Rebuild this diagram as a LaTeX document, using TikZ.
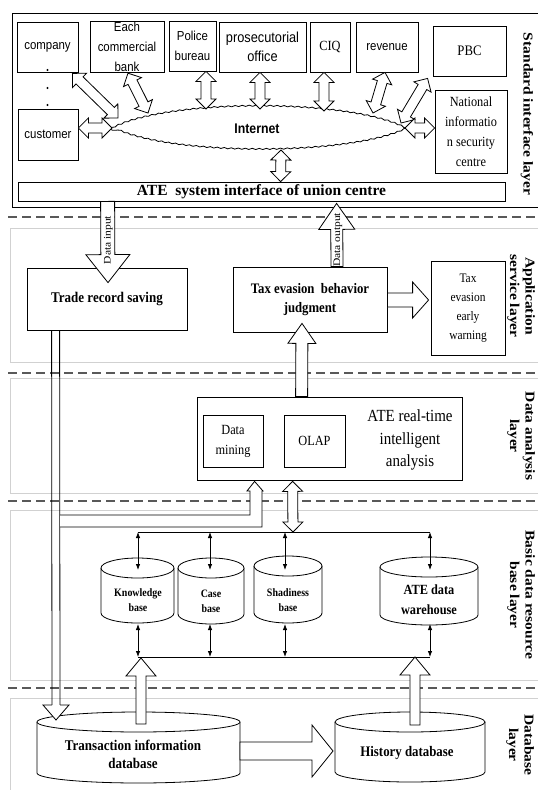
\documentclass[tikz,border=0pt]{standalone}
\usepackage{fontspec}
\setmainfont{Liberation Serif}[FakeStretch=0.88]
\newfontfamily\normf{Liberation Serif}
\newfontfamily\sansf{Liberation Sans}[FakeStretch=0.88]
\newfontfamily\widef{Liberation Serif}[FakeStretch=1.15]
\usetikzlibrary{calc,arrows.meta,decorations.pathmorphing}

% hollow double-headed block arrow: #1,#2 ends, #3 shaft half width, #4 head half width, #5 head length
\newcommand\dblarr[5]{%
  \coordinate (da1) at ($(#1)!#5!(#2)$);
  \coordinate (da2) at ($(#2)!#5!(#1)$);
  \draw[blockarr] (#1) -- ($(da1)!#4!90:(#2)$) -- ($(da1)!#3!90:(#2)$)
    -- ($(da2)!#3!-90:(#1)$) -- ($(da2)!#4!-90:(#1)$) -- (#2)
    -- ($(da2)!#4!90:(#1)$) -- ($(da2)!#3!90:(#1)$)
    -- ($(da1)!#3!-90:(#2)$) -- ($(da1)!#4!-90:(#2)$) -- cycle;}
% hollow single block arrow: tail #1, tip #2
\newcommand\sglarr[5]{%
  \coordinate (sa1) at ($(#2)!#5!(#1)$);
  \draw[blockarr] ($(#1)!#3!90:(#2)$) -- ($(sa1)!#3!-90:(#1)$) -- ($(sa1)!#4!-90:(#1)$)
    -- (#2) -- ($(sa1)!#4!90:(#1)$) -- ($(sa1)!#3!90:(#1)$) -- ($(#1)!#3!-90:(#2)$) -- cycle;}
% cylinder: cx, top-ellipse centre y, bottom-ellipse centre y, rx, ry
\newcommand\cyl[5]{%
  \draw[fill=white] ({#1-#4},#2) -- ({#1-#4},#3)
    .. controls ({#1-#4},{#3+0.5523*#5}) and ({#1-0.5523*#4},{#3+#5}) .. (#1,{#3+#5})
    .. controls ({#1+0.5523*#4},{#3+#5}) and ({#1+#4},{#3+0.5523*#5}) .. ({#1+#4},#3)
    -- ({#1+#4},#2);
  \draw[fill=white] (#1,#2) ellipse [x radius=#4, y radius=#5];}

\begin{document}
\begin{tikzpicture}[x=1pt,y=-1pt,line width=0.8pt,
  box/.style={draw, inner sep=1pt, align=center},
  blockarr/.style={draw, fill=white, line join=miter},
  faint/.style={draw=black!18, line width=0.7pt},
  dashline/.style={draw=black!65, line width=1.4pt, dash pattern=on 9pt off 5pt},
  biarr/.style={{Latex[length=6pt,width=4.5pt]}-{Latex[length=6pt,width=4.5pt]}},
  layerlab/.style={font=\widef\bfseries\fontsize{13.5}{15.5}\selectfont, align=center, rotate=-90, inner sep=0pt},
  sanslab/.style={font=\sansf\fontsize{13}{20}\selectfont},
]
\useasboundingbox (0,0) rectangle (538,790);

% ---------- layer frames ----------
\draw (12,13) rectangle (560,207);
\draw[faint] (10,228) rectangle (560,362);
\draw[faint] (10,378) rectangle (560,493);
\draw[faint] (10,510) rectangle (560,680);
\draw[faint] (10,698) rectangle (560,800);
\foreach \yy in {217,373,501,688} \draw[dashline] (8,\yy) -- (538,\yy);

% ---------- standard interface layer ----------
\node[box, sanslab, minimum width=61pt, minimum height=50pt] (company) at (47.5,47) {company};
\node[box, sanslab, minimum width=74pt, minimum height=50pt] (bank) at (127,47) {Each\\commercial\\bank};
\node[box, sanslab, minimum width=47pt, minimum height=50pt] (police) at (192.5,46) {Police\\bureau};
\node[box, font=\sansf\fontsize{14.5}{19}\selectfont, minimum width=87pt, minimum height=50pt] (prosec) at (262.5,47) {prosecutorial\\office};
\node[box, font=\fontsize{14}{16}\selectfont, minimum width=40pt, minimum height=50pt] (ciq) at (330,47) {CIQ};
\node[box, sanslab, minimum width=62pt, minimum height=50pt] (revenue) at (387,47) {revenue};
\node[box, font=\fontsize{14.5}{16}\selectfont, minimum width=73pt, minimum height=50pt] (pbc) at (469.5,51) {PBC};
\node[box, font=\fontsize{14}{20}\selectfont, minimum width=72pt, minimum height=83pt] (nisc) at (471,131.5) {National\\informatio\\n security\\centre};
\node[box, sanslab, minimum width=60pt, minimum height=51pt] (customer) at (48,134.5) {customer};
\foreach \yy [count=\i] in {70,88,105} \node[circle, fill, inner sep=0pt, minimum size=2.2pt] (dot\i) at (47.5,\yy) {};
\node[box, inner sep=0pt, minimum width=487pt, minimum height=19pt, font=\normf\bfseries\fontsize{15.5}{17}\selectfont] (iface) at (261.5,191.5) {ATE\ \ system interface of union centre};

\draw[fill=white, decorate, decoration={snake, amplitude=0.6pt, segment length=7pt}]
  (110,129) .. controls (165,99) and (350,99) .. (405,129) .. controls (350,158) and (165,158) .. cycle;
\node[font=\sansf\bfseries\fontsize{14}{16}\selectfont] (internet) at (257,129) {Internet};

\coordinate (ic1) at (118,118);  \coordinate (oc1) at ($(company.south east)+(-6,1)$);
\coordinate (ic2) at (148,113);  \coordinate (oc2) at ($(bank.south)+(1,0)$);
\coordinate (ic3) at (112,128);  \coordinate (oc3) at ($(customer.east)+(0,-6.5)$);
\coordinate (ic4) at (206,109);  \coordinate (oc4) at ($(police.south)+(13.5,0)$);
\coordinate (ic5) at (260,109);  \coordinate (oc5) at ($(prosec.south)+(-2.5,0)$);
\coordinate (ic6) at (324,111);  \coordinate (oc6) at ($(ciq.south)+(-6,0)$);
\coordinate (ic7) at (373,113);  \coordinate (oc7) at ($(revenue.south)+(-2,0)$);
\coordinate (ic8) at (401,123);  \coordinate (oc8) at ($(pbc.south west)+(-5,2)$);
\coordinate (ic9) at (405,128);  \coordinate (oc9) at ($(nisc.west)+(0,-3.5)$);
\coordinate (ic10) at (281,150); \coordinate (oc10) at ($(iface.north west)+(263,0)$);
\foreach \i in {1,...,10} {\dblarr{oc\i}{ic\i}{5pt}{10pt}{10pt}}

% ---------- application service layer ----------
\node[box, minimum width=160pt, minimum height=62pt, font=\bfseries\fontsize{14.8}{16}\selectfont] (trade) at (107,299) {Trade record saving};
\node[box, minimum width=154pt, minimum height=65pt, font=\bfseries\fontsize{14.5}{19.5}\selectfont] (judge) at (310,299.5) {Tax evasion\ \ behavior\\judgment};
\node[box, minimum width=74pt, minimum height=94pt, font=\fontsize{13}{19}\selectfont] (warn) at (468,308) {Tax\\evasion\\early\\warning};

\coordinate (din) at ($(iface.south west)+(90,0)$);
\coordinate (dintip) at ($(trade.north)+(1,15)$);
\sglarr{din}{dintip}{7pt}{22pt}{28pt}
\node[font=\widef\fontsize{10}{12}\selectfont, rotate=90, inner sep=0pt] (dinlab) at (108.5,240) {Data input};

\coordinate (dout) at ($(judge.north)+(27,0)$);
\coordinate (douttip) at ($(iface.south west)+(319,2)$);
\sglarr{dout}{douttip}{6pt}{18pt}{26pt}
\node[font=\widef\fontsize{10}{12}\selectfont, rotate=90, inner sep=0pt] (doutlab) at (338,240) {Data output};

\coordinate (jw1) at ($(judge.east)+(0,0.5)$);
\coordinate (jw2) at ($(warn.west)+(-2,-8)$);
\sglarr{jw1}{jw2}{7pt}{18pt}{16pt}

% ---------- data analysis layer ----------
\node[box, minimum width=265pt, minimum height=83pt] (anal) at (329.5,438.5) {};
\node[box, minimum width=60pt, minimum height=52pt, font=\fontsize{14}{20}\selectfont] (mining) at (233,441) {Data\\mining};
\node[box, minimum width=61pt, minimum height=52pt, font=\fontsize{14}{16}\selectfont] (olap) at (314.5,441) {OLAP};
\node[font=\fontsize{17}{22.5}\selectfont, align=center, inner sep=0pt] (atxt) at (410,440) {ATE real-time\\intelligent\\analysis};

\coordinate (aj1) at ($(anal.north west)+(105,0)$);
\coordinate (aj2) at ($(judge.south)+(-8,-9)$);
\sglarr{aj1}{aj2}{6pt}{14pt}{20pt}

% pipe from trade record saving
\coordinate (pa) at ($(trade.south west)+(25,0)$);
\coordinate (pb) at ($(trade.south west)+(33,0)$);
\coordinate (pa2) at (52,705);
\coordinate (pb2) at (60,705);
\coordinate (pbr1) at (60,515);
\coordinate (pbr2) at (60,527);
\coordinate (brtip) at ($(anal.south west)+(58,1)$);
\draw (pa) -- (pa2);
\draw (pb) -- (pb2);
\draw[fill=white] (pbr1) -- (250,515) -- (250,491) -- (247,491) -- (brtip) -- (263,491) -- (262,491) -- (262,527) -- (pbr2);

% ---------- basic data resource base layer ----------
\coordinate (ab1) at ($(anal.south west)+(96,1)$);
\coordinate (ab2) at (293,532);
\coordinate (bus1) at (138,532);
\coordinate (bus2) at (430,532);
\draw (bus1) -- (bus2);
\dblarr{ab1}{ab2}{5pt}{10pt}{10pt}

\cyl{137.5}{568}{613}{36.5}{10}
\cyl{211}{568}{614}{33}{10}
\cyl{288}{566}{613}{34}{10}
\cyl{429}{567}{615}{49}{10}
\node[font=\bfseries\fontsize{11.3}{15}\selectfont, align=center] (kb) at (138,600) {Knowledge\\base};
\node[font=\bfseries\fontsize{11.3}{15}\selectfont, align=center] (cb) at (211,601) {Case\\base};
\node[font=\bfseries\fontsize{11.3}{15}\selectfont, align=center] (sb) at (288,600) {Shadiness\\base};
\node[font=\bfseries\fontsize{14}{20}\selectfont, align=center] (wh) at (429,600) {ATE data\\warehouse};

\foreach \xx/\nm in {138/k,210/c,285/s,430/w} {
  \coordinate (\nm t1) at (\xx,532);
  \coordinate (\nm t2) at (\xx,570);
  \coordinate (\nm b1) at (\xx,624);
  \coordinate (\nm b2) at (\xx,657);
  \draw[biarr] (\nm t1) -- (\nm t2);
  \draw[biarr] (\nm b1) -- (\nm b2);
}
\coordinate (lbus1) at (138,657);
\coordinate (lbus2) at (430,657);
\draw (lbus1) -- (lbus2);

% ---------- database layer ----------
\cyl{138.5}{722}{773}{101.5}{10}
\cyl{410}{722}{772}{75}{10}
\node[font=\bfseries\fontsize{14.8}{18}\selectfont, align=center] (tdb) at (133,754) {Transaction information\\database};
\node[font=\bfseries\fontsize{14.6}{16}\selectfont] (hdb) at (407,753) {History database};

\coordinate (tu1) at (141,724);
\coordinate (tu2) at (141,658);
\sglarr{tu1}{tu2}{5pt}{15pt}{18pt}
\coordinate (hu1) at (415,725);
\coordinate (hu2) at (415,657);
\sglarr{hu1}{hu2}{5pt}{15pt}{18pt}

\draw[blockarr] (pa2) -- (43,705) -- (56,720) -- (69,705) -- (pb2);

\coordinate (th1) at (240,751);
\coordinate (th2) at (333,751);
\sglarr{th1}{th2}{9pt}{26pt}{21pt}

% ---------- layer labels ----------
\node[layerlab] (l1) at (527,114) {Standard interface layer};
\node[layerlab] (l2) at (521,296) {Application\\service layer};
\node[layerlab] (l3) at (521,436) {Data analysis\\layer};
\node[layerlab] (l4) at (521,595) {Basic data resource\\base layer};
\node[layerlab] (l5) at (520,745) {Database\\layer};
\end{tikzpicture}
\end{document}
